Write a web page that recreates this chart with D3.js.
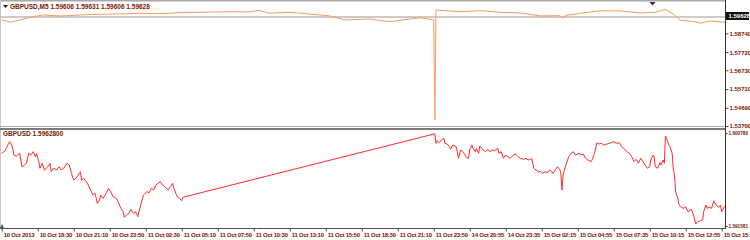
<!DOCTYPE html>
<html>
<head>
<meta charset="utf-8">
<script src="https://cdn.jsdelivr.net/npm/d3@7"></script>
<style>
body { margin: 0; background: #fff; }
svg { display: block; }
text { font-family: "Liberation Sans", Arial, sans-serif; font-size: 6px; fill: #7a1604; }
</style>
</head>
<body>
<svg></svg>
<script>
// time axis labels, one every 32 bars (M5)
const tickLabels = ["10 Oct 2013", "10 Oct 18:30", "10 Oct 21:10", "10 Oct 23:50", "11 Oct 02:30",
    "11 Oct 05:10", "11 Oct 07:50", "11 Oct 10:30", "11 Oct 13:10", "11 Oct 15:50", "11 Oct 18:30",
    "11 Oct 21:10", "11 Oct 23:50", "14 Oct 20:55", "14 Oct 23:35", "15 Oct 02:15", "15 Oct 04:55",
    "15 Oct 07:35", "15 Oct 10:15", "15 Oct 12:55", "15 Oct 15:35"];
const tickBars = tickLabels.map((d, i) => i * 32);

// upper window: GBPUSD,M5
const upperTitle = "GBPUSD,M5  1.59606 1.59631 1.59606 1.59628";
const upperTicks = [1.53700, 1.54690, 1.55710, 1.56730, 1.57720, 1.58740];
const upperLast = 1.59628;
const upperBars = [0, 8, 16, 28, 37, 52, 70, 87, 105, 123,
    141, 158, 176, 203, 220, 229, 238, 256, 283, 292,
    305, 327, 345, 372, 384, 385, 386, 408, 426, 443,
    461, 479, 496, 499, 501, 514, 532, 550, 568, 581,
    590, 598, 603, 616, 621, 630, 643];
const upperPrices = [1.59466, 1.59341, 1.59466, 1.59646, 1.59738, 1.59684, 1.59738, 1.59776, 1.59793, 1.59831,
    1.59809, 1.59864, 1.59885, 1.59918, 1.59902, 1.59994, 1.59831, 1.59885, 1.59738, 1.59684,
    1.59466, 1.59521, 1.59374, 1.59592, 1.59466, 1.54026, 1.60010, 1.59918, 1.59972, 1.59885,
    1.59847, 1.59684, 1.59700, 1.59559, 1.59711, 1.59831, 1.59972, 1.59956, 1.59847, 1.59885,
    1.60048, 1.59738, 1.59450, 1.59374, 1.59287, 1.59412, 1.59341];

// lower window: GBPUSD line
const lowerTitle = "GBPUSD 1.5962800";
const lowerTicks = [1.591581, 1.600780];
const lowerBars = [0, 3, 4, 7, 9, 11, 13, 16, 18, 20,
    22, 24, 26, 28, 30, 31, 33, 34, 36, 38,
    41, 43, 44, 46, 49, 51, 53, 55, 58, 60,
    62, 64, 66, 68, 70, 71, 73, 75, 77, 79,
    81, 83, 85, 87, 88, 90, 93, 95, 97, 99,
    102, 104, 106, 108, 109, 111, 113, 115, 117, 119,
    121, 122, 124, 126, 129, 131, 133, 135, 137, 139,
    141, 143, 145, 148, 150, 152, 153, 156, 158, 160, 161,
    385, 386, 387, 389, 391, 393, 394, 396, 398,
    399, 401, 404, 405, 406, 408, 410, 412, 413, 415,
    416, 418, 419, 421, 422, 424, 425, 428, 430, 432,
    434, 436, 438, 441, 442, 444, 446, 448, 450, 452,
    455, 457, 459, 461, 464, 466, 468, 470, 471, 473,
    475, 477, 479, 481, 483, 485, 487, 489, 490, 492,
    494, 496, 497, 498, 499, 500, 502, 504, 506, 508,
    510, 513, 515, 517, 519, 521, 524, 525, 527, 529,
    531, 533, 535, 538, 540, 542, 544, 547, 549, 551,
    553, 556, 558, 560, 562, 564, 566, 568, 570, 572,
    574, 576, 577, 579, 580, 581, 583, 585, 586, 588,
    589, 590, 591, 593, 594, 596, 597, 598, 599, 601,
    602, 604, 606, 608, 610, 612, 613, 615, 616, 617,
    619, 621, 623, 624, 626, 627, 629, 631, 633, 635,
    637, 639, 640, 641, 643];
const lowerPrices = [1.59877, 1.59903, 1.59926, 1.59992, 1.59959, 1.59860, 1.59850, 1.59877, 1.59744, 1.59761,
    1.59778, 1.59877, 1.59860, 1.59893, 1.59843, 1.59877, 1.59794, 1.59729, 1.59778, 1.59712,
    1.59744, 1.59778, 1.59695, 1.59729, 1.59712, 1.59744, 1.59712, 1.59729, 1.59778, 1.59761,
    1.59679, 1.59613, 1.59630, 1.59662, 1.59695, 1.59613, 1.59630, 1.59596, 1.59564, 1.59514,
    1.59465, 1.59481, 1.59383, 1.59415, 1.59465, 1.59432, 1.59481, 1.59531, 1.59497, 1.59448,
    1.59432, 1.59383, 1.59333, 1.59299, 1.59244, 1.59267, 1.59284, 1.59323, 1.59284, 1.59299,
    1.59250, 1.59299, 1.59383, 1.59465, 1.59497, 1.59487, 1.59531, 1.59514, 1.59564, 1.59580,
    1.59596, 1.59564, 1.59547, 1.59514, 1.59547, 1.59580, 1.59531, 1.59448, 1.59432, 1.59408, 1.59442,
    1.60070, 1.59976, 1.60002, 1.59982, 1.60009, 1.60025, 1.59976, 1.59969, 1.59942,
    1.59917, 1.59959, 1.59942, 1.59893, 1.59828, 1.59910, 1.59893, 1.59860, 1.59837, 1.59828,
    1.59910, 1.59959, 1.59926, 1.59893, 1.59926, 1.59877, 1.59949, 1.59910, 1.59893, 1.59917,
    1.59893, 1.59910, 1.59903, 1.59926, 1.59877, 1.59893, 1.59828, 1.59860, 1.59843, 1.59828,
    1.59860, 1.59870, 1.59843, 1.59828, 1.59818, 1.59828, 1.59811, 1.59818, 1.59828, 1.59729,
    1.59712, 1.59695, 1.59695, 1.59679, 1.59695, 1.59685, 1.59712, 1.59695, 1.59679, 1.59712,
    1.59744, 1.59719, 1.59679, 1.59514, 1.59662, 1.59705, 1.59778, 1.59843, 1.59877, 1.59893,
    1.59860, 1.59877, 1.59860, 1.59870, 1.59828, 1.59811, 1.59794, 1.59818, 1.59877, 1.59982,
    1.59969, 1.59976, 1.59959, 1.59969, 1.59976, 1.59982, 1.59992, 1.59976, 1.59982, 1.59942,
    1.59926, 1.59893, 1.59877, 1.59843, 1.59794, 1.59818, 1.59778, 1.59828, 1.59794, 1.59761,
    1.59729, 1.59744, 1.59811, 1.59860, 1.59843, 1.59744, 1.59729, 1.59784, 1.59761, 1.59811,
    1.59778, 1.60048, 1.60025, 1.59959, 1.59942, 1.59877, 1.59712, 1.59679, 1.59497, 1.59432,
    1.59366, 1.59343, 1.59333, 1.59349, 1.59299, 1.59316, 1.59323, 1.59267, 1.59217, 1.59178,
    1.59201, 1.59210, 1.59217, 1.59299, 1.59366, 1.59333, 1.59343, 1.59333, 1.59408, 1.59366,
    1.59343, 1.59366, 1.59299, 1.59323, 1.59356];

const width = 750, height = 240;
const svg = d3.select('svg').attr('width', width).attr('height', height);
const plotRight = 725.5;

//Scales
const xScale = d3.scaleLinear().domain([0, 640]).range([1.7, 721.7]);
const yUpper = d3.scaleLinear().domain([1.53700, upperLast]).range([126, 17]);
const yLower = d3.scaleLinear().domain([lowerTicks[0], lowerTicks[1]]).range([226, 133]);

//Clip areas for the two windows
const defs = svg.append('defs');
defs.append('clipPath').attr('id', 'clipUp').append('rect')
    .attr('x', 0).attr('y', 2).attr('width', plotRight).attr('height', 124);
defs.append('clipPath').attr('id', 'clipLo').append('rect')
    .attr('x', 0).attr('y', 130).attr('width', plotRight).attr('height', 98);

//Frame
svg.append('line').attr('x1', 0).attr('x2', plotRight).attr('y1', 0.5).attr('y2', 0.5)
    .attr('stroke', '#a9a9a9').attr('stroke-width', 2);
svg.append('line').attr('x1', 0.5).attr('x2', 0.5).attr('y1', 0).attr('y2', 228)
    .attr('stroke', '#c8c8c8');
svg.append('rect').attr('x', 0).attr('y', 126).attr('width', plotRight).attr('height', 1).attr('fill', '#b0b0b0');
svg.append('rect').attr('x', 0).attr('y', 128).attr('width', plotRight).attr('height', 2).attr('fill', '#7c7c7c');

//Current price line in upper window
svg.append('line').attr('x1', 0).attr('x2', plotRight)
    .attr('y1', yUpper(upperLast)).attr('y2', yUpper(upperLast))
    .attr('stroke', '#c2b6b6').attr('stroke-width', 1.5);

//Series
const upperData = upperBars.map((b, i) => ({ bar: b, price: upperPrices[i] }));
const lowerData = lowerBars.map((b, i) => ({ bar: b, price: lowerPrices[i] }));

svg.append('path').datum(upperData)
    .attr('clip-path', 'url(#clipUp)')
    .attr('fill', 'none').attr('stroke', '#f79a5e').attr('stroke-width', 1)
    .attr('d', d3.line().x(d => xScale(d.bar)).y(d => yUpper(d.price)));

svg.append('path').datum(lowerData)
    .attr('clip-path', 'url(#clipLo)')
    .attr('fill', 'none').attr('stroke', '#ff2a2a').attr('stroke-width', 1)
    .attr('d', d3.line().x(d => xScale(d.bar)).y(d => yLower(d.price)));

//Axes
const gUpAxis = svg.append('g').attr('transform', `translate(${plotRight},0)`)
    .call(d3.axisRight(yUpper).tickValues(upperTicks).tickSize(3).tickPadding(1).tickFormat(d3.format('.5f')));
const gLoAxis = svg.append('g').attr('transform', `translate(${plotRight},0)`)
    .call(d3.axisRight(yLower).tickValues(lowerTicks).tickSize(2).tickPadding(1).tickFormat(d3.format('.6f')));
const gxAxis = svg.append('g').attr('transform', 'translate(0,228.5)')
    .call(d3.axisBottom(xScale).tickValues(tickBars).tickSize(3).tickPadding(1).tickFormat((d, i) => tickLabels[i]));

[gUpAxis, gLoAxis, gxAxis].forEach(g => {
    g.select('.domain').remove();
    g.selectAll('line').attr('stroke', '#404040');
    g.selectAll('text').attr('fill', '#7a1604').attr('font-size', 6).attr('font-weight', 'bold')
        .attr('font-family', '"Liberation Sans", Arial, sans-serif');
});
gxAxis.selectAll('text').attr('text-anchor', 'start').attr('dx', 1.5).attr('letter-spacing', -0.25);
// the two 8-digit labels are squeezed to stay inside the window
gLoAxis.selectAll('text').attr('font-size', 5.6).attr('textLength', 19.5).attr('lengthAdjust', 'spacingAndGlyphs');

//Axis lines
svg.append('line').attr('x1', plotRight).attr('x2', plotRight).attr('y1', 0).attr('y2', 229)
    .attr('stroke', '#303030');
svg.append('line').attr('x1', 0).attr('x2', plotRight).attr('y1', 228.5).attr('y2', 228.5)
    .attr('stroke', '#505050');

//Last price box
const lastY = yUpper(upperLast) - 1;
svg.append('rect').attr('x', 726).attr('y', lastY - 4).attr('width', 23).attr('height', 8).attr('fill', '#111');
svg.append('text').attr('x', 728.5).attr('y', lastY).attr('dy', '0.32em')
    .style('fill', '#fff').style('font-weight', 'bold').text(d3.format('.5f')(upperLast));

//Titles
svg.append('path').attr('d', 'M3,5 L8,5 L5.5,8 Z').attr('fill', '#111');
svg.append('text').attr('x', 10).attr('y', 6.5).attr('dy', '0.32em').style('font-weight', 'bold')
    .style('font-size', '6.5px').text(upperTitle);
svg.append('text').attr('x', 3).attr('y', 133.5).attr('dy', '0.32em').style('font-weight', 'bold')
    .style('font-size', '6.5px').text(lowerTitle);

//Small markers
svg.append('path').attr('d', 'M649.5,2 L655.5,2 L652.5,5.5 Z').attr('fill', '#4a2a22');
svg.append('path').attr('d', 'M0,228 L2,224 L4,228 Z').attr('fill', '#555');
</script>
</body>
</html>
